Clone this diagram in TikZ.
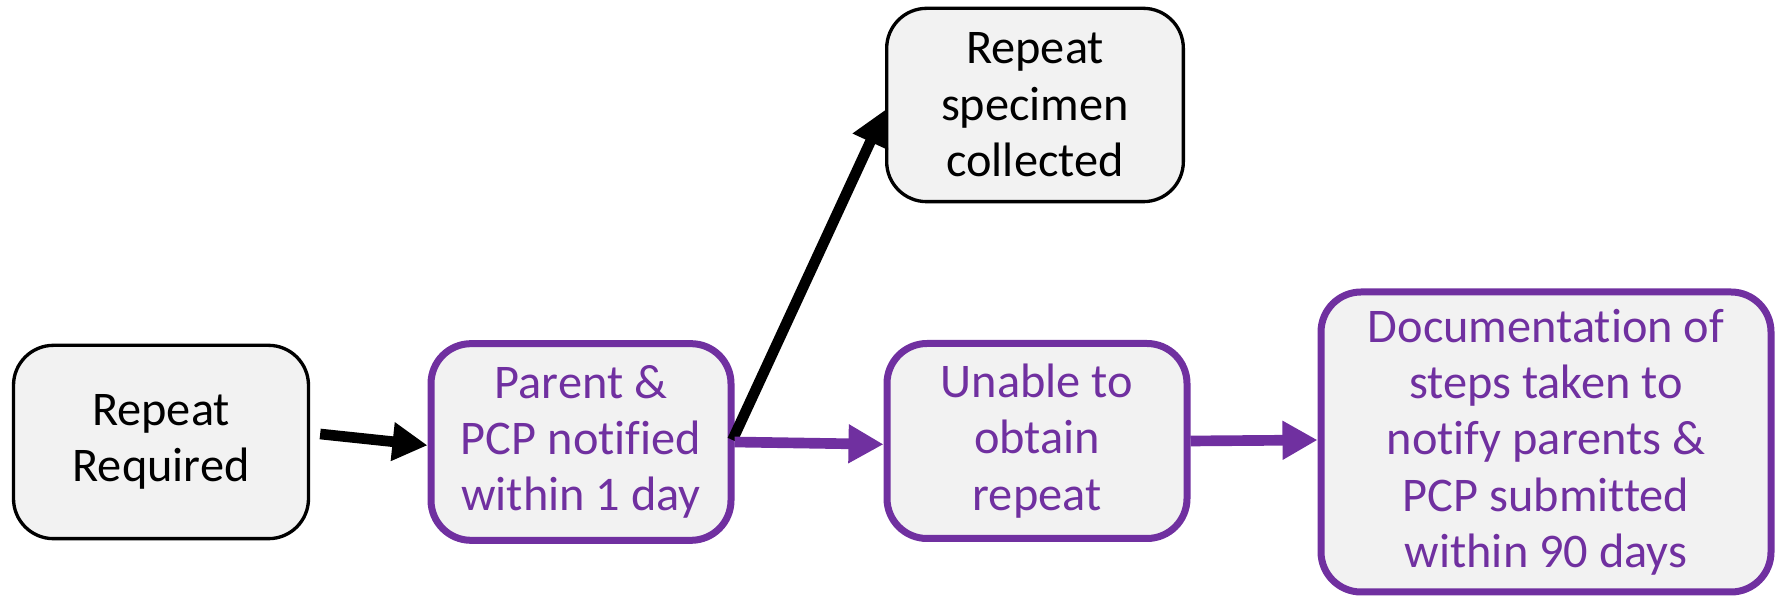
\documentclass[tikz,border=0pt]{standalone}
\usepackage{fontspec}
\setmainfont[Ligatures=NoCommon]{Carlito}
\usetikzlibrary{arrows.meta}

\definecolor{stepgray}{HTML}{F2F2F2}
\definecolor{steppurple}{HTML}{7030A0}

\tikzset{
  plainbox/.style={draw=black, line width=1pt, fill=stepgray, rounded corners=12pt,
    align=center, font=\fontsize{14.5}{16.9}\selectfont, inner sep=2pt},
  purplebox/.style={plainbox, draw=steppurple, line width=2.1pt, text=steppurple},
  blackarrow/.style={draw=black, line width=3.2pt, -{Triangle[length=10.5pt,width=11pt]}},
  purplearrow/.style={draw=steppurple, line width=3.2pt, -{Triangle[length=10.5pt,width=11pt]}}
}

\begin{document}
\begin{tikzpicture}[x=0.3pt,y=-0.3pt]

  \useasboundingbox (0,0) rectangle (1778,596);

  % boxes
  \node[plainbox, minimum width=88.5pt, minimum height=58pt] (req) at (161,442) {Repeat\\Required};
  \node[purplebox, minimum width=90pt, minimum height=59pt] (notify) at (581,442) {Parent \&\\PCP notified\\within 1 day};
  \node[plainbox, minimum width=89pt, minimum height=58pt] (spec) at (1035,105) {Repeat\\specimen\\collected};
  \node[purplebox, minimum width=90pt, minimum height=58.5pt] (unable) at (1037,441) {Unable to\\obtain\\repeat};
  \node[purplebox, minimum width=135pt, minimum height=90pt] (doc) at (1546,442) {Documentation of\\steps taken to\\notify parents \&\\PCP submitted\\within 90 days};

  % arrows
  \draw[blackarrow] ([xshift=3pt,yshift=2.4pt]req.east) -- ([yshift=-1pt]notify.west);
  \draw[blackarrow] ([xshift=-0.6pt,yshift=0.6pt]notify.east) -- ([yshift=-1.5pt]spec.west);
  \draw[purplearrow] (notify.east) -- ([yshift=-1pt]unable.west);
  \draw[purplearrow] (unable.east) -- ([yshift=0.6pt]doc.west);

\end{tikzpicture}
\end{document}
